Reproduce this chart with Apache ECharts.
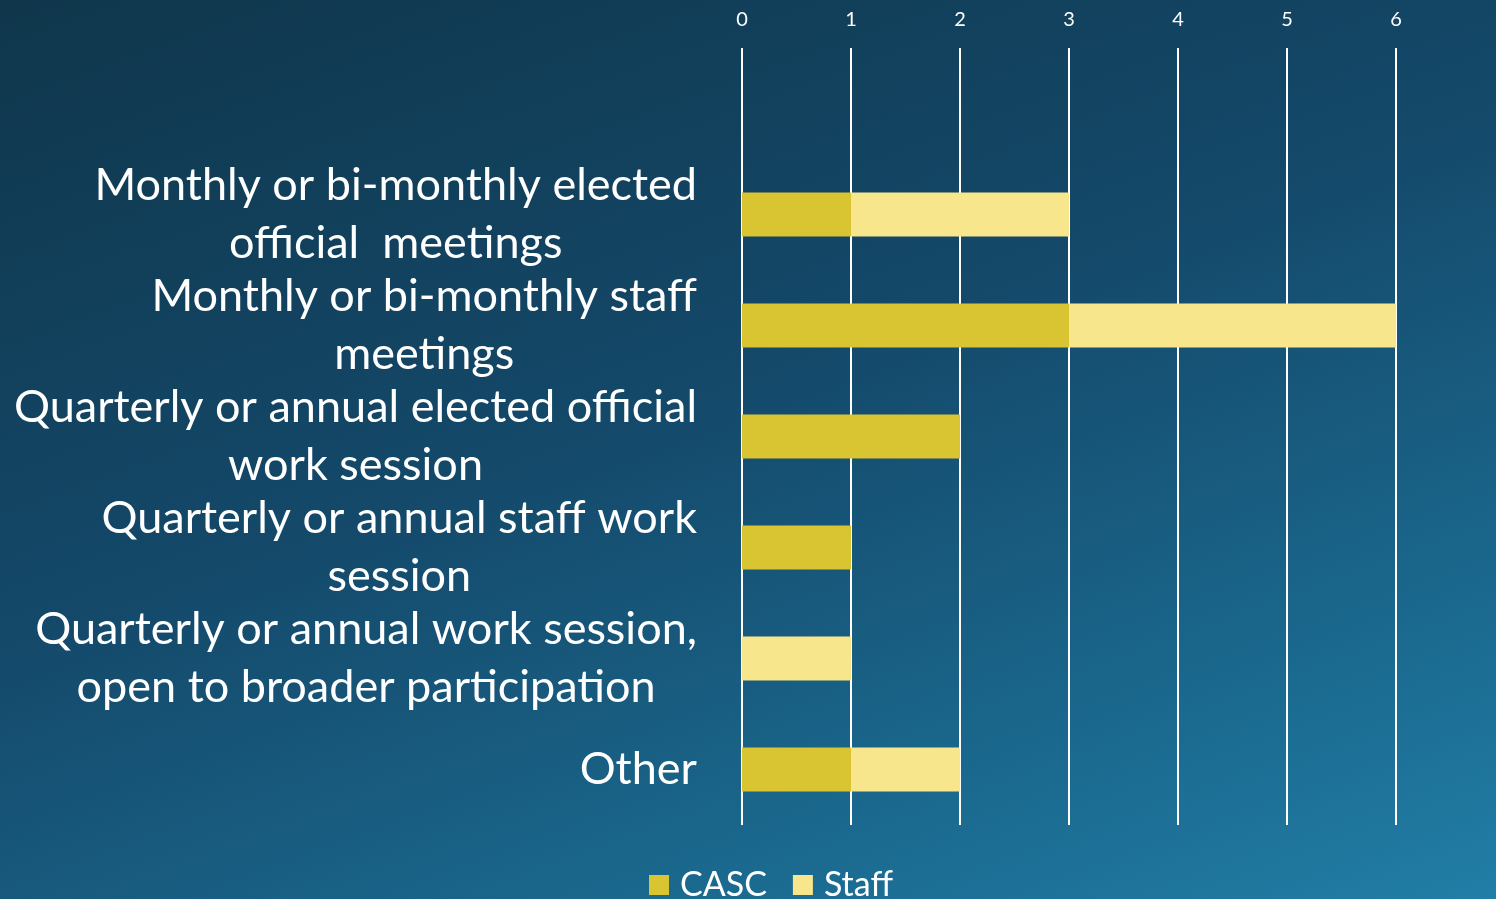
<!DOCTYPE html>
<html>
<head>
<meta charset="utf-8">
<script src="https://cdn.jsdelivr.net/npm/echarts@6/dist/echarts.min.js"></script>
<style>
	html, body { margin: 0; padding: 0; }
	#chart {
		width: 1496px;
		height: 899px;
		background: linear-gradient( 160deg, #0f364b 0%, #14496a 45%, #1b6a90 80%, #217ea6 100% );
	}
</style>
</head>
<body>
<div id="chart"></div>
<script>
// Categories, top to bottom (the first row is empty in the source chart)
const categories = [
	'',
	'Monthly or bi-monthly elected\nofficial  meetings',
	'Monthly or bi-monthly staff\nmeetings',
	'Quarterly or annual elected official\nwork session',
	'Quarterly or annual staff work\nsession',
	'Quarterly or annual work session,\nopen to broader participation',
	'Other'
];
const cascValues = [ null, 1, 3, 2, 1, 0, 1 ];
const staffValues = [ null, 2, 3, 0, 0, 1, 1 ];
const xTicks = [ 0, 1, 2, 3, 4, 5, 6 ];

const fontFamily = 'Lato, "Open Sans", sans-serif';
const chart = echarts.init( document.getElementById( 'chart' ) );

chart.setOption( {
	backgroundColor: 'transparent',
	textStyle: { fontFamily: fontFamily },
	grid: { left: 742, right: 100, top: 48, bottom: 74, containLabel: false },
	legend: {
		bottom: -8,
		left: 644,
		itemWidth: 20,
		itemHeight: 20,
		itemGap: 26,
		icon: 'rect',
		textStyle: { color: '#ffffff', fontSize: 34, fontFamily: fontFamily, padding: [ 0, 0, 0, 6 ] },
		data: [ 'CASC', 'Staff' ]
	},
	xAxis: {
		type: 'value',
		position: 'top',
		min: xTicks[ 0 ],
		max: xTicks[ xTicks.length - 1 ],
		interval: 1,
		axisLine: { show: false },
		axisTick: { show: false },
		axisLabel: { color: '#ffffff', fontSize: 20, margin: 18 },
		splitLine: { lineStyle: { color: '#ffffff', width: 2 } }
	},
	yAxis: {
		type: 'category',
		inverse: true,
		data: categories,
		axisLine: { show: false },
		axisTick: { show: false },
		axisLabel: {
			margin: 45,
			align: 'right',
			color: '#ffffff',
			fontSize: 45,
			lineHeight: 58,
			formatter: ( value ) => value.split( '\n' ).map( ( line ) => '{c|' + line + '}' ).join( '\n' ),
			rich: {
				c: { align: 'center', color: '#ffffff', fontSize: 45, lineHeight: 58, fontFamily: fontFamily }
			}
		}
	},
	series: [
		{
			name: 'CASC',
			type: 'bar',
			stack: 'total',
			barWidth: 44,
			itemStyle: { color: '#d9c431' },
			data: cascValues
		},
		{
			name: 'Staff',
			type: 'bar',
			stack: 'total',
			barWidth: 44,
			itemStyle: { color: '#f7e68c' },
			data: staffValues
		}
	]
} );
</script>
</body>
</html>
